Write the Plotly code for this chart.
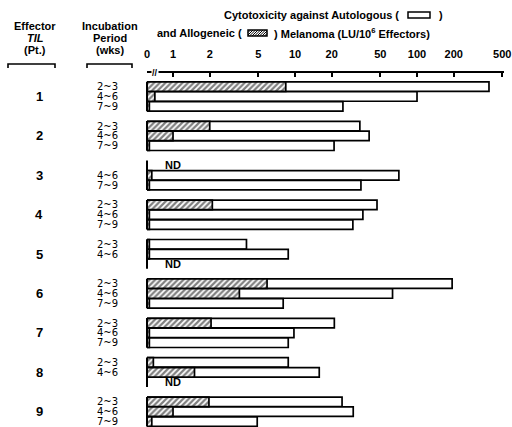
import math
import plotly.graph_objects as go

# ---- data -------------------------------------------------------------
patients = ["1", "2", "3", "4", "5", "6", "7", "8", "9"]
periods = ["2~3", "4~6", "7~9"]

# one row per (patient, incubation period); None = not done (ND)
row_patient = [1, 1, 1, 2, 2, 2, 3, 3, 3, 4, 4, 4, 5, 5, 5,
               6, 6, 6, 7, 7, 7, 8, 8, 8, 9, 9, 9]
row_period = periods * 9

# lytic units per 10^6 effectors
autologous = [389, 100, 24.7,
              34, 40.5, 20.9,
              None, 71, 34.7,
              47, 36, 29.8,
              4.0, 8.8, None,
              194, 63, 8.0,
              21, 9.8, 8.8,
              8.8, 15.8, None,
              24.3, 30, 4.9]
allogeneic = [8.4, 0.71, 0.64,
              2.0, 1.0, 0.64,
              None, 0.67, 0.64,
              2.1, 0.64, 0.64,
              0.64, 0.64, None,
              5.9, 3.5, 0.64,
              2.05, 0.64, 0.64,
              0.69, 1.5, None,
              1.97, 1.0, 0.67]

tick_values = [0, 1, 2, 5, 10, 20, 50, 100, 200, 500]
ZERO_AT = 0.612          # the broken log axis shows "0" here

# ---- geometry helpers ---------------------------------------------------
W, H = 512, 427
L, R, T, B = 147, 504, 73, 427
PX_PER_DECADE = 122.0
FONT = "Liberation Sans"


def px(xp):
    return (xp - L) / (R - L)


def py(yp):
    return (B - yp) / (B - T)


slot_of = {p: i for i, p in enumerate(periods)}
row_y = [4 * (p - 1) + slot_of[s] - 1 for p, s in zip(row_patient, row_period)]
group_y = [4 * (int(p) - 1) for p in patients]

BAR_W = 0.96
fig = go.Figure()

fig.add_trace(go.Bar(
    x=autologous, y=row_y, orientation="h", width=BAR_W,
    marker=dict(color="white", line=dict(color="black", width=1.7)),
    showlegend=False, hoverinfo="skip"))

fig.add_trace(go.Bar(
    x=allogeneic, y=row_y, orientation="h", width=BAR_W,
    marker=dict(color="white", line=dict(color="black", width=1.7),
                pattern=dict(shape="/", fgcolor="black", bgcolor="white",
                             size=4, solidity=0.55)),
    showlegend=False, hoverinfo="skip"))

x_lo = math.log10(ZERO_AT)
x_hi = x_lo + (R - L) / PX_PER_DECADE
y_top = -(96.5 - T) / 9.85
y_bot = (B - 96.5) / 9.85

fig.update_layout(
    width=W, height=H,
    margin=dict(l=L, r=W - R, t=T, b=H - B, pad=0),
    paper_bgcolor="white", plot_bgcolor="white",
    barmode="overlay",
    font=dict(family=FONT, color="black", size=11),
    xaxis=dict(
        type="log", range=[x_lo, x_hi], side="top",
        tickvals=[ZERO_AT if v == 0 else v for v in tick_values],
        ticktext=[str(v) for v in tick_values],
        ticks="inside", ticklen=4, tickwidth=1.5, tickcolor="black",
        showline=True, linecolor="black", linewidth=1.6,
        showgrid=False, zeroline=False, automargin=False,
        ticklabelstandoff=9,
        tickfont=dict(family=FONT, size=11, color="black", weight="bold"),
    ),
    yaxis=dict(range=[y_bot, y_top], visible=False, automargin=False),
)

annotations = []
shapes = []


def note(text, x, y, size=11, xanchor="center", weight="bold",
         family=FONT, xref="paper", yref="paper", **kw):
    annotations.append(dict(
        text=text, x=x, y=y, xref=xref, yref=yref, xanchor=xanchor,
        yanchor="middle", showarrow=False,
        font=dict(family=family, size=size, color="black", weight=weight),
        **kw))


# column headers
for txt, yy in [("Effector", 26), ("<i>TIL</i>", 38), ("(Pt.)", 50)]:
    note(txt, px(35), py(yy))
for txt, yy in [("Incubation", 26), ("Period", 38), ("(wks)", 50)]:
    note(txt, px(110), py(yy))

# header brackets
for x0, x1 in [(8, 55), (87, 132)]:
    yb = 64
    shapes.append(dict(
        type="path", xref="paper", yref="paper",
        path=(f"M {px(x0)},{py(yb + 4)} L {px(x0)},{py(yb)} "
              f"L {px(x1)},{py(yb)} L {px(x1)},{py(yb + 4)}"),
        line=dict(color="black", width=1.6)))

# title with inline key boxes
note("Cytotoxicity against Autologous (", px(401), py(15), xanchor="right")
note(")", px(437), py(15), xanchor="left")
shapes.append(dict(type="rect", xref="paper", yref="paper",
                   x0=px(408), x1=px(430), y0=py(18), y1=py(12),
                   line=dict(color="black", width=1.5), fillcolor="white"))

note("and Allogeneic (", px(244), py(33), xanchor="right")
note(") Melanoma (LU/10<sup>6</sup> Effectors)", px(272), py(33),
     xanchor="left")
kx0, kx1, ky0, ky1 = 248, 267, 30, 36
hh = ky1 - ky0
c = kx0 - hh
while c < kx1:
    t0 = max(0, kx0 - c)
    t1 = min(hh, kx1 - c)
    if t1 > t0:
        shapes.append(dict(type="line", xref="paper", yref="paper",
                           x0=px(c + t0), y0=py(ky1 - t0),
                           x1=px(c + t1), y1=py(ky1 - t1),
                           line=dict(color="black", width=1)))
    c += 2.5
shapes.append(dict(type="rect", xref="paper", yref="paper",
                   x0=px(kx0), x1=px(kx1), y0=py(ky1), y1=py(ky0),
                   line=dict(color="black", width=1.5)))

# axis break mark
note("//", px(155), py(T), size=9, bgcolor="white", borderpad=0)

# patient numbers and their left edge
for lab, gy in zip(patients, group_y):
    note(lab, px(39), gy, size=13, yref="y")
    shapes.append(dict(type="line", xref="paper", yref="y",
                       x0=0, x1=0, y0=gy - 1.5, y1=gy + 1.5,
                       line=dict(color="black", width=2)))

# incubation period labels, or ND where the assay was not done
for per, yy, a in zip(row_period, row_y, autologous):
    if a is None:
        note("ND", px(173), yy, size=11, yref="y")
    else:
        note(per, px(120), yy, size=10, xanchor="right", weight="normal",
             family="DejaVu Sans", yref="y")

fig.update_layout(annotations=annotations, shapes=shapes)
fig.write_html("out.html")
